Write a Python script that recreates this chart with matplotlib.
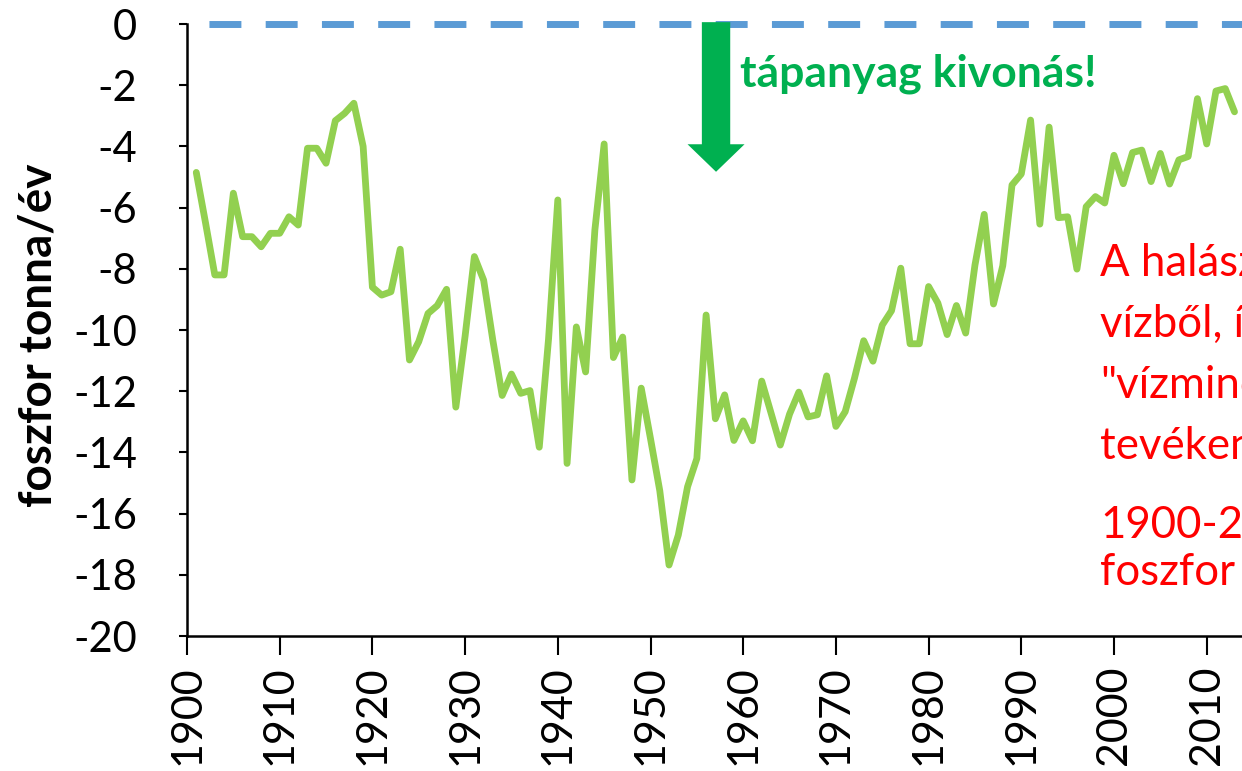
import matplotlib
matplotlib.use("Agg")
import matplotlib.pyplot as plt
import numpy as np

years = list(range(1901, 2014))
phosphorus = [
    -4.85, -6.5, -8.2, -8.2, -5.53, -6.95, -6.95, -7.28, -6.84, -6.84,      # 1901-1910
    -6.3, -6.57, -4.06, -4.06, -4.55, -3.16, -2.92, -2.59, -4.0, -8.6,      # 1911-1920
    -8.86, -8.75, -7.36, -10.98, -10.38, -9.46, -9.2, -8.67, -12.52, -10.2, # 1921-1930
    -7.6, -8.37, -10.35, -12.14, -11.44, -12.07, -11.98, -13.83, -10.3, -5.75,  # 1931-1940
    -14.36, -9.9, -11.37, -6.73, -3.92, -10.9, -10.23, -14.9, -11.9, -13.55,    # 1941-1950
    -15.25, -17.68, -16.7, -15.12, -14.2, -9.51, -12.9, -12.12, -13.61, -12.97, # 1951-1960
    -13.62, -11.67, -12.71, -13.76, -12.75, -12.03, -12.84, -12.77, -11.5, -13.15,  # 1961-1970
    -12.67, -11.58, -10.35, -11.02, -9.84, -9.37, -7.98, -10.45, -10.45, -8.58,     # 1971-1980
    -9.12, -10.15, -9.2, -10.1, -7.88, -6.22, -9.15, -7.9, -5.26, -4.9,             # 1981-1990
    -3.14, -6.54, -3.37, -6.33, -6.3, -8.01, -5.97, -5.64, -5.85, -4.29,            # 1991-2000
    -5.22, -4.2, -4.12, -5.15, -4.23, -5.23, -4.44, -4.33, -2.44, -3.92,            # 2001-2010
    -2.19, -2.11, -2.87,                                                            # 2011-2013
]
x_ticks = list(range(1900, 2020, 10))
y_ticks = list(range(-20, 1, 2))
y_label = "foszfor tonna/év"
arrow_text = "tápanyag kivonás!"
red_lines_1 = ["A halászat", "vízből, így", "\"vízminőség-javító\"", "tevékenység"]
red_lines_2 = ["1900-2013:", "foszfor"]

W, H = 1242, 771
fig = plt.figure(figsize=(W / 100, H / 100), dpi=100)
FONT = "Lato"
plt.rcParams["font.family"] = [FONT, "DejaVu Sans"]

left_px, right_px, top_px, bottom_px = 187, 1242, 24, 636
ax = fig.add_axes([left_px / W, 1 - bottom_px / H, (right_px - left_px) / W, (bottom_px - top_px) / H])

ax.set_xlim(1900, 1900 + (right_px - left_px) / 9.27)
ax.set_ylim(-20, 0)

# zero reference dashed line
ax.axhline(0, color="#5B9BD5", lw=5, linestyle=(4.94, (4.6, 3.5)), clip_on=False, zorder=2)

# data line
ax.plot(years, phosphorus, color="#92D050", lw=4.9, solid_joinstyle="round", solid_capstyle="round", zorder=3)

# arrow
ax.arrow(1957.07, 0.06, 0, -4.89, width=3.06, head_width=6.15, head_length=0.9,
         length_includes_head=True, color="#00B050", lw=0, zorder=4, clip_on=False)
ax.text(1959.65, -2.03, arrow_text, color="#00B050", fontsize=32, fontweight="bold",
        ha="left", va="baseline", zorder=5)

ax.set_xticks(x_ticks)
ax.set_yticks(y_ticks)
ax.set_xticklabels([str(v) for v in x_ticks], rotation=90, fontsize=31)
ax.set_yticklabels([str(v) for v in y_ticks], fontsize=30)
ax.tick_params(axis="y", length=6, width=1.5, pad=30, direction="out")
ax.tick_params(axis="x", length=14, width=1.5, pad=7, direction="out")

for s in ["top", "right"]:
    ax.spines[s].set_visible(False)
for s in ["left", "bottom"]:
    ax.spines[s].set_linewidth(1.8)
    ax.spines[s].set_color("black")

fig.text(39 / W, 1 - 335 / H, y_label, rotation=90, fontsize=33, fontweight="bold",
         ha="center", va="center")

# red annotation text (clipped by figure edge, as in the reference)
base1 = [276, 337, 398, 459]
for line, b in zip(red_lines_1, base1):
    fig.text(1100 / W, 1 - b / H, line, color="#FF0000", fontsize=31.5, ha="left", va="baseline")
base2 = [538, 585]
for line, b in zip(red_lines_2, base2):
    fig.text(1100 / W, 1 - b / H, line, color="#FF0000", fontsize=31.5, ha="left", va="baseline")

fig.savefig("out.png", dpi=100)
